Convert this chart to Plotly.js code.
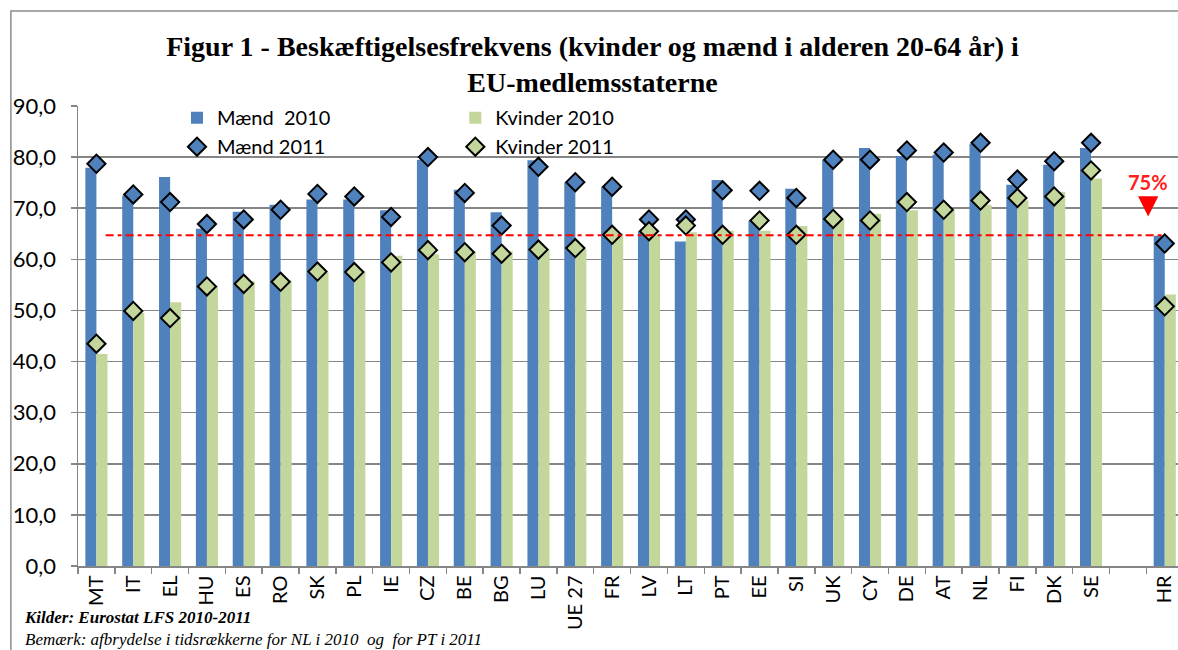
<!DOCTYPE html>
<html>
<head>
<meta charset="utf-8">
<script src="https://cdn.plot.ly/plotly-3.0.1.min.js"></script>
<style>
  html, body { margin: 0; padding: 0; background: #fff; }
  #chart { width: 1178px; height: 650px; }
</style>
</head>
<body>
<div id="chart"></div>
<script>
/* Figur 1 - beskæftigelsesfrekvens 20-64 år, EU (Eurostat LFS 2010-2011) */
var categories = ['MT', 'IT', 'EL', 'HU', 'ES', 'RO', 'SK', 'PL', 'IE', 'CZ', 'BE', 'BG', 'LU', 'UE 27',
  'FR', 'LV', 'LT', 'PT', 'EE', 'SI', 'UK', 'CY', 'DE', 'AT', 'NL', 'FI', 'DK', 'SE', ' ', 'HR'];

var maend2010 = [77.9, 72.5, 76.1, 66.0, 69.3, 70.7, 71.7, 71.7, 69.6, 79.5, 73.6, 69.2, 79.4, 75.1,
  74.2, 65.5, 63.5, 75.5, 67.6, 73.8, 79.5, 81.8, 80.2, 80.5, 82.6, 74.6, 78.5, 81.8, null, 64.6];
var kvinder2010 = [41.5, 49.5, 51.6, 54.8, 55.7, 55.9, 57.4, 57.7, 60.7, 61.0, 61.6, 61.6, 62.0, 62.0,
  65.0, 64.8, 65.3, 65.6, 65.6, 66.5, 67.8, 68.9, 69.6, 69.7, 70.7, 71.5, 73.2, 75.8, null, 53.1];
var maend2011 = [78.7, 72.7, 71.2, 66.9, 67.8, 69.7, 72.8, 72.3, 68.3, 80.0, 73.0, 66.6, 78.1, 75.1,
  74.2, 67.8, 67.8, 73.5, 73.4, 72.0, 79.5, 79.5, 81.3, 80.9, 82.8, 75.6, 79.2, 82.8, null, 63.1];
var kvinder2011 = [43.5, 49.9, 48.5, 54.7, 55.2, 55.6, 57.6, 57.5, 59.4, 61.8, 61.4, 61.1, 61.9, 62.2,
  64.8, 65.5, 66.6, 64.8, 67.6, 64.8, 67.9, 67.6, 71.2, 69.7, 71.5, 72.0, 72.3, 77.4, null, 50.8];

var seriesNames = ['Mænd  2010', 'Kvinder 2010', 'Mænd 2011', 'Kvinder 2011'];
var refLine = 64.7;      /* rød stiplet linje (tegnet i figuren) */
var refLabel = '75%';
var footnotes = ['<b><i>Kilder: Eurostat LFS 2010-2011</i></b>',
  '<i>Bemærk: afbrydelse i tidsrækkerne for NL i 2010  og  for PT i 2011</i>'];

var BLUE = '#4f81bd', GREEN = '#c3d69b', GRID = '#868686';
var SANS = 'Lato, "Open Sans", sans-serif';
var SERIF = '"Liberation Serif", "DejaVu Serif", serif';

function diamond(color) {
  return { symbol: 'diamond', size: 14, color: color, line: { color: '#000', width: 2 } };
}

var traces = [
  { type: 'bar', name: seriesNames[0], x: categories, y: maend2010, marker: { color: BLUE },
    legend: 'legend', hoverinfo: 'x+y' },
  { type: 'bar', name: seriesNames[1], x: categories, y: kvinder2010, marker: { color: GREEN },
    legend: 'legend2', hoverinfo: 'x+y' },
  { type: 'scatter', mode: 'markers', name: seriesNames[2], x: categories, y: maend2011,
    marker: diamond(BLUE), legend: 'legend', cliponaxis: false },
  { type: 'scatter', mode: 'markers', name: seriesNames[3], x: categories, y: kvinder2011,
    marker: diamond(GREEN), legend: 'legend2', cliponaxis: false }
];

var legendBase = {
  orientation: 'v', yanchor: 'top', y: 1.017, xanchor: 'left',
  bgcolor: 'rgba(0,0,0,0)', font: { family: SANS, size: 20, color: '#000' },
  tracegroupgap: 0, itemwidth: 30
};

var layout = {
  width: 1178, height: 650,
  margin: { l: 78, r: 0, t: 106, b: 84 },
  paper_bgcolor: '#fff', plot_bgcolor: '#fff',
  separators: ', ',
  barmode: 'group', bargap: 0.4, bargroupgap: 0,
  title: {
    text: 'Figur 1 - Beskæftigelsesfrekvens (kvinder og mænd i alderen 20-64 år) i<br>EU-medlemsstaterne',
    font: { family: SERIF, size: 28, weight: 'bold', color: '#000' },
    x: 0.503, xref: 'container', y: 0.914, yref: 'container', yanchor: 'middle'
  },
  legend: Object.assign({}, legendBase, { x: 0.09 }),
  legend2: Object.assign({}, legendBase, { x: 0.343 }),
  xaxis: {
    type: 'category', categoryorder: 'array', categoryarray: categories,
    range: [-0.5, 29.36], tickson: 'boundaries',
    ticks: 'outside', ticklen: 6, tickcolor: GRID, tickwidth: 1.5,
    showline: true, linecolor: GRID, linewidth: 1.5,
    showgrid: false, tickangle: -90,
    tickfont: { family: SANS, size: 20, color: '#000' }
  },
  yaxis: {
    range: [0, 90], dtick: 10, tickformat: '.1f',
    ticks: 'outside', ticklen: 6, tickcolor: GRID, tickwidth: 1.5,
    showline: true, linecolor: GRID, linewidth: 1.5,
    showgrid: true, gridcolor: GRID, gridwidth: 1.5, zeroline: false,
    ticklabelstandoff: 10,
    tickfont: { family: SANS, size: 22, color: '#000' }
  },
  shapes: [
    /* ramme om figuren */
    { type: 'rect', xref: 'paper', yref: 'paper', x0: -0.061, x1: 1.2, y0: -0.4, y1: 1.2065,
      line: { color: '#8c8c8c', width: 1.5 }, fillcolor: 'rgba(0,0,0,0)' },
    { type: 'line', xref: 'x', yref: 'y', x0: 0.25, x1: 29, y0: refLine, y1: refLine,
      line: { color: '#ff0000', width: 2, dash: '8px,4px,4px,4px' }, layer: 'above' }
  ],
  annotations: [
    { xref: 'x', yref: 'y', x: 28.55, y: 75.2, text: '<b>' + refLabel + '</b>', showarrow: false,
      font: { family: SANS, size: 20, color: '#ff2020' } },
    { xref: 'x', yref: 'y', x: 28.55, y: 68.4, ax: 0, ay: -17, text: '', showarrow: true,
      arrowhead: 2, arrowsize: 0.9, arrowwidth: 4.5, arrowcolor: '#ff0000' },
    { xref: 'paper', yref: 'paper', x: -0.051, y: -0.135, xanchor: 'left', yanchor: 'middle',
      align: 'left', text: footnotes.join('<br>'), showarrow: false,
      font: { family: SERIF, size: 17, color: '#000' } }
  ]
};

Plotly.newPlot('chart', traces, layout, { displayModeBar: false, staticPlot: true });
</script>
</body>
</html>
